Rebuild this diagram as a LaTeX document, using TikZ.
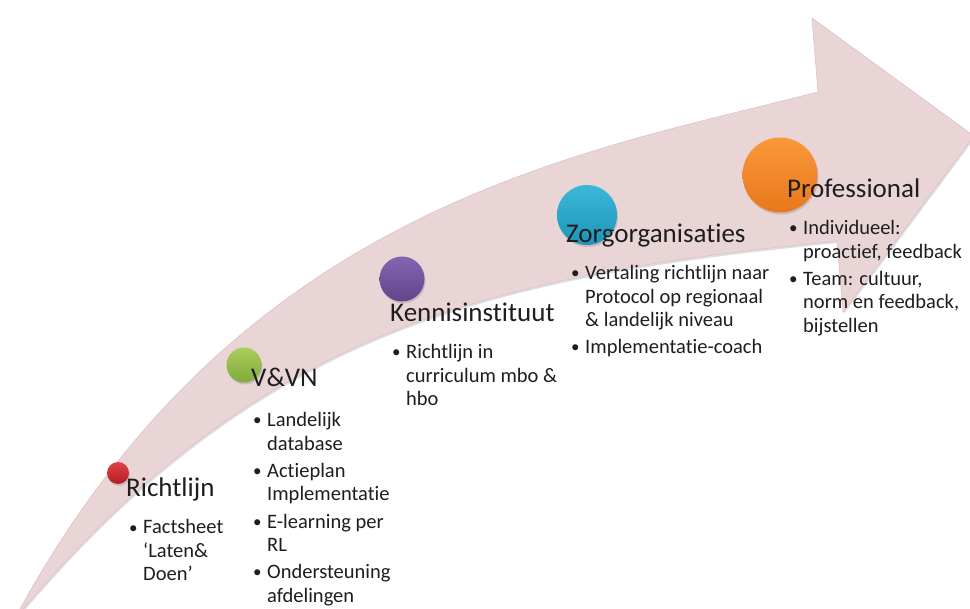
\documentclass[tikz,border=0pt]{standalone}
\usepackage{fontspec}
\setmainfont{Carlito}[Ligatures={TeX,NoCommon}]
\usetikzlibrary{shadows}
\definecolor{arrowfill}{RGB}{233,212,214}
\definecolor{arrowline}{RGB}{222,194,198}
\definecolor{redtop}{RGB}{226,66,70}
\definecolor{redbot}{RGB}{180,28,34}
\definecolor{greentop}{RGB}{170,204,92}
\definecolor{greenbot}{RGB}{128,172,58}
\definecolor{purptop}{RGB}{134,100,176}
\definecolor{purpbot}{RGB}{98,68,140}
\definecolor{bluetop}{RGB}{58,184,218}
\definecolor{bluebot}{RGB}{30,148,184}
\definecolor{orangetop}{RGB}{250,152,58}
\definecolor{orangebot}{RGB}{232,120,28}
\definecolor{txt}{RGB}{30,30,30}
\newcommand{\blt}{\makebox[14pt][l]{\raisebox{1pt}{\fontsize{17}{17}\selectfont\textbullet}}}
\newenvironment{blist}{\begin{tabular}[t]{@{}l@{}l@{}}}{\end{tabular}}
\begin{document}
\begin{tikzpicture}[x=1pt,y=-1pt,
  dot/.style={circle, inner sep=0pt, draw=none, shading=axis,
    drop shadow={shadow xshift=1pt,shadow yshift=-2pt,opacity=0.3}},
  head/.style={anchor=base west, inner sep=0pt, text=txt, font=\fontsize{27}{30}\selectfont},
  body/.style={anchor=base west, inner sep=0pt, text=txt, font=\fontsize{20.5}{23.3}\selectfont}]
\useasboundingbox (0,0) rectangle (970,609);
\fill[white] (0,0) rectangle (970,609);
\clip (0,0) rectangle (970,609);
% big curved arrow
\path[fill=arrowfill, draw=arrowline, line width=0.6pt,
  drop shadow={shadow xshift=1pt,shadow yshift=-2pt,opacity=0.25}]
  (14,620) .. controls (236,207) and (576,154) .. (818,92)
  -- (812,18) -- (974,136) -- (843,312) -- (837,241)
  .. controls (489,276) and (257,328) .. (14,620) -- cycle;
% circles
\node[dot, minimum size=22pt, top color=redtop, bottom color=redbot] (c1) at (118,473) {};
\node[dot, minimum size=35pt, top color=greentop, bottom color=greenbot] (c2) at (244,365) {};
\node[dot, minimum size=45pt, top color=purptop, bottom color=purpbot] (c3) at (402,279) {};
\node[dot, minimum size=60pt, top color=bluetop, bottom color=bluebot] (c4) at (587,215) {};
\node[dot, minimum size=75pt, top color=orangetop, bottom color=orangebot] (c5) at (780,175) {};
% headings
\node[head] (h1) at (126,497) {Richtlijn};
\node[head] (h2) at (251,387) {V\&VN};
\node[head] (h3) at (390,322) {Kennisinstituut};
\node[head] (h4) at (566,243) {Zorgorganisaties};
\node[head] (h5) at (787,198) {Professional};
% bullet texts
\node[body] (b1) at (129,534) {\begin{blist}\blt&Factsheet\\&‘Laten\&\\&Doen’\end{blist}};
\node[body] (b2) at (253,427) {\begin{blist}\blt&Landelijk\\&database\\[4pt]\blt&Actieplan\\&Implementatie\\[4pt]\blt&E-learning per\\&RL\\[4pt]\blt&Ondersteuning\\&afdelingen\end{blist}};
\node[body] (b3) at (392,359) {\begin{blist}\blt&Richtlijn in\\&curriculum mbo \&\\&hbo\end{blist}};
\node[body] (b4) at (571,280) {\begin{blist}\blt&Vertaling richtlijn naar\\&Protocol op regionaal\\&\& landelijk niveau\\[4pt]\blt&Implementatie-coach\end{blist}};
\node[body] (b5) at (789,235) {\begin{blist}\blt&Individueel:\\&proactief, feedback\\[4pt]\blt&Team: cultuur,\\&norm en feedback,\\&bijstellen\end{blist}};
\end{tikzpicture}
\end{document}
